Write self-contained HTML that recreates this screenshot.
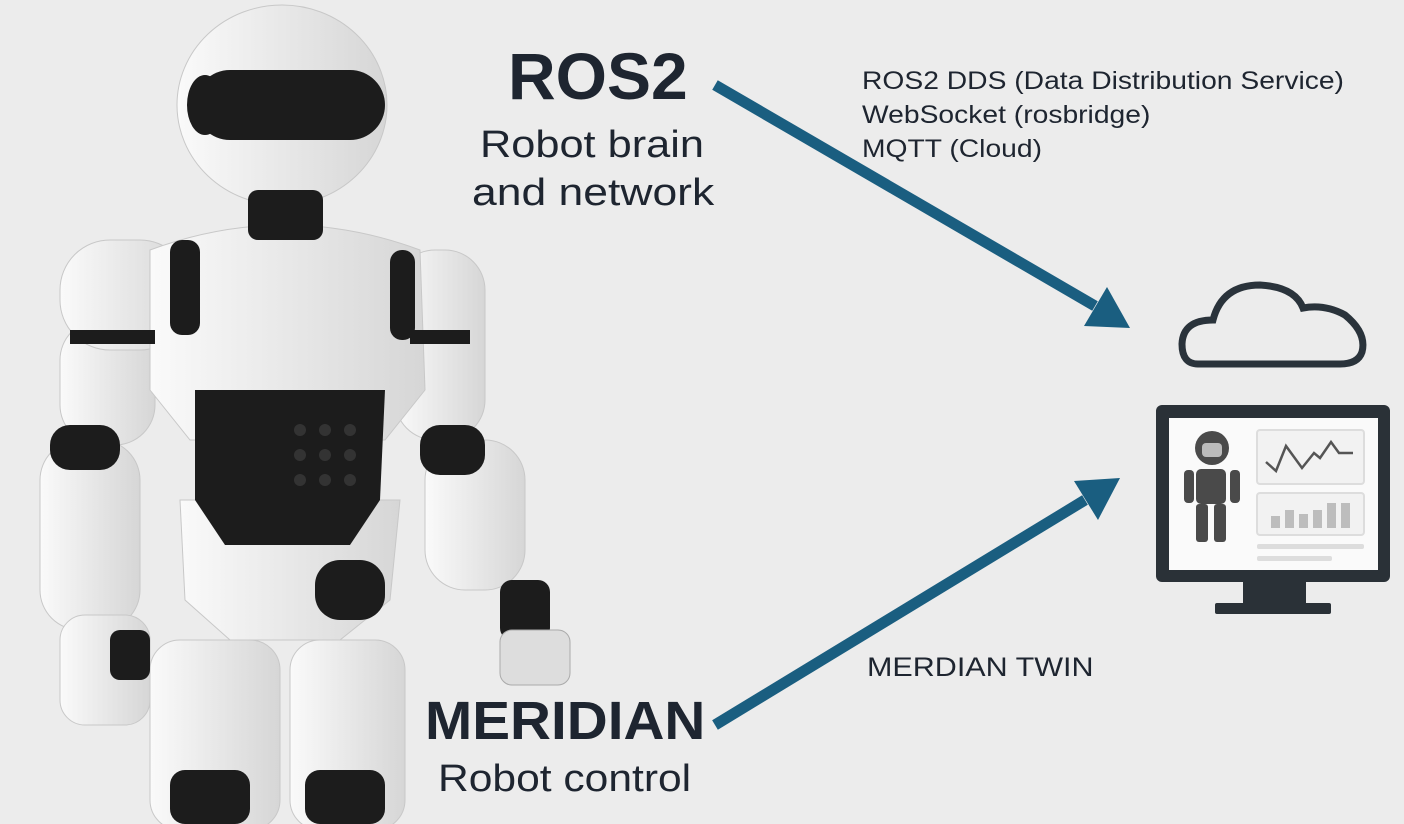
<!DOCTYPE html>
<html><head><meta charset="utf-8"><style>
body{margin:0;width:1404px;height:824px;background:#ececec;overflow:hidden;position:relative;font-family:"Liberation Sans",sans-serif}
.t{position:absolute;color:#1e2530;white-space:nowrap;transform-origin:0 0}
</style></head><body>
<svg width="1404" height="824" style="position:absolute;left:0;top:0">
<defs><linearGradient id="w" x1="0" x2="1"><stop offset="0" stop-color="#fafafa"/><stop offset="1" stop-color="#d6d6d6"/></linearGradient></defs>
<g fill="url(#w)" stroke="#c8c8c8">
<rect x="150" y="640" width="130" height="190" rx="30"/>
<rect x="290" y="640" width="115" height="190" rx="30"/>
<path d="M180 500 L400 500 L390 600 L340 640 L230 640 L185 600Z"/>
<rect x="40" y="440" width="100" height="190" rx="40"/>
<rect x="60" y="320" width="95" height="125" rx="40"/>
<rect x="60" y="615" width="90" height="110" rx="25"/>
<rect x="60" y="240" width="130" height="110" rx="50"/>
<rect x="395" y="250" width="90" height="190" rx="40"/>
<rect x="425" y="440" width="100" height="150" rx="40"/>
<path d="M150 250 Q285 200 420 250 L425 390 L385 440 L190 440 L150 390Z"/>
<ellipse cx="282" cy="105" rx="105" ry="100"/>
</g>
<g fill="#1c1c1c">
<rect x="248" y="190" width="75" height="50" rx="10"/>
<rect x="195" y="70" width="190" height="70" rx="35"/>
<ellipse cx="205" cy="105" rx="18" ry="30"/>
<path d="M195 390 L385 390 L380 500 L350 545 L225 545 L195 500Z"/>
<rect x="170" y="240" width="30" height="95" rx="12"/>
<rect x="390" y="250" width="25" height="90" rx="12"/>
<rect x="50" y="425" width="70" height="45" rx="20"/>
<rect x="420" y="425" width="65" height="50" rx="20"/>
<rect x="70" y="330" width="85" height="14"/>
<rect x="410" y="330" width="60" height="14"/>
<rect x="110" y="630" width="40" height="50" rx="10"/>
<rect x="500" y="580" width="50" height="60" rx="12"/>
<rect x="315" y="560" width="70" height="60" rx="25"/>
<rect x="170" y="770" width="80" height="54" rx="15"/>
<rect x="305" y="770" width="80" height="54" rx="15"/>
</g>
<g fill="#333"><circle cx="300" cy="430" r="6"/><circle cx="325" cy="430" r="6"/><circle cx="350" cy="430" r="6"/><circle cx="300" cy="455" r="6"/><circle cx="325" cy="455" r="6"/><circle cx="350" cy="455" r="6"/><circle cx="300" cy="480" r="6"/><circle cx="325" cy="480" r="6"/><circle cx="350" cy="480" r="6"/></g>
<g fill="#ddd" stroke="#aaa"><rect x="500" y="630" width="70" height="55" rx="12"/></g>
<g stroke="#1a5e80" stroke-width="11" fill="#1a5e80">
<line x1="715" y1="85" x2="1095" y2="306"/>
<line x1="715" y1="725" x2="1085" y2="500"/>
</g>
<polygon points="1130,328 1084,326 1107,287" fill="#1a5e80"/>
<polygon points="1120,478 1098,520 1074,481" fill="#1a5e80"/>
<path d="M1198 364 Q1182 364 1182 344 Q1183 320 1213 320 Q1222 285 1260 285 Q1295 287 1303 308 Q1325 304 1345 315 Q1367 333 1362 352 Q1358 364 1340 364 Z" fill="none" stroke="#2a333b" stroke-width="7"/>
<rect x="1156" y="405" width="234" height="177" rx="6" fill="#2a3137"/>
<rect x="1169" y="418" width="209" height="152" fill="#fafafa"/>
<rect x="1243" y="582" width="63" height="22" fill="#2a3137"/>
<rect x="1215" y="603" width="116" height="11" rx="2" fill="#2a3137"/>
<g fill="#4a4a4a">
<circle cx="1212" cy="448" r="17"/>
<rect x="1196" y="469" width="30" height="35" rx="5"/>
<rect x="1184" y="470" width="10" height="33" rx="4"/><rect x="1230" y="470" width="10" height="33" rx="4"/>
<rect x="1196" y="504" width="12" height="38" rx="3"/><rect x="1214" y="504" width="12" height="38" rx="3"/>
</g>
<rect x="1202" y="443" width="20" height="14" rx="4" fill="#bbb"/>
<rect x="1257" y="430" width="107" height="54" rx="3" fill="#f2f2f2" stroke="#ddd" stroke-width="2"/>
<polyline points="1266,462 1276,471 1286,446 1302,468 1314,453 1320,458 1331,442 1339,453 1353,453" fill="none" stroke="#555" stroke-width="2.5"/>
<rect x="1257" y="493" width="107" height="42" rx="3" fill="#f2f2f2" stroke="#ddd" stroke-width="2"/>
<g fill="#bdbdbd"><rect x="1271" y="516" width="9" height="12"/><rect x="1285" y="510" width="9" height="18"/><rect x="1299" y="514" width="9" height="14"/><rect x="1313" y="510" width="9" height="18"/><rect x="1327" y="503" width="9" height="25"/><rect x="1341" y="503" width="9" height="25"/></g>
<rect x="1257" y="544" width="107" height="5" rx="2" fill="#ddd"/>
<rect x="1257" y="556" width="75" height="5" rx="2" fill="#ddd"/>
</svg>
<div class="t" style="left:508px;top:38px;font-size:66px;font-weight:bold">ROS2</div>
<div class="t" style="left:480px;top:124px;font-size:38px;transform:scaleX(1.14)">Robot brain</div>
<div class="t" style="left:472px;top:172px;font-size:38px;transform:scaleX(1.17)">and network</div>
<div class="t" style="left:425px;top:690px;font-size:54px;font-weight:bold;transform:scaleX(1.05)">MERIDIAN</div>
<div class="t" style="left:438px;top:758px;font-size:38px;transform:scaleX(1.12)">Robot control</div>
<div class="t" style="left:862px;top:64px;font-size:25px;line-height:34px;transform:scaleX(1.13)">ROS2 DDS (Data Distribution Service)<br>WebSocket (rosbridge)<br>MQTT (Cloud)</div>
<div class="t" style="left:867px;top:652px;font-size:27px;transform:scaleX(1.13)">MERDIAN TWIN</div>
</body></html>
